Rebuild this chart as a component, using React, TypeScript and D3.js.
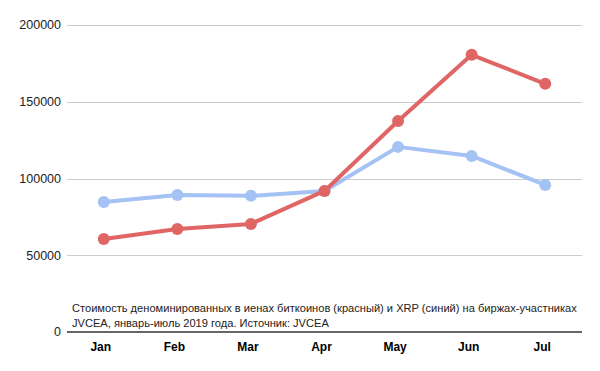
import React from 'react';
import * as d3 from 'd3';

const months = ['Jan', 'Feb', 'Mar', 'Apr', 'May', 'Jun', 'Jul'];
const btcValues = [60600, 67100, 70400, 91900, 137500, 180600, 161700];
const xrpValues = [84700, 89300, 88700, 91900, 120600, 114700, 95800];
const yTicks = [0, 50000, 100000, 150000, 200000];
const captionLines = [
  'Стоимость деноминированных в иенах биткоинов (красный) и XRP (синий) на биржах-участниках',
  'JVCEA, январь-июль 2019 года. Источник: JVCEA',
];

const width = 600;
const height = 371;
const margin = { top: 25, right: 18, bottom: 39, left: 67 };

export default function App() {
  const x = d3.scaleBand<string>()
    .domain(months)
    .range([margin.left, width - margin.right]);

  const y = d3.scaleLinear()
    .domain([0, 200000])
    .range([height - margin.bottom, margin.top]);

  const cx = (m: string) => (x(m) ?? 0) + x.bandwidth() / 2;

  const line = d3.line<number>()
    .x((_, i) => cx(months[i]))
    .y(d => y(d));

  const series = [
    { values: xrpValues, color: '#a4c2f4' },
    { values: btcValues, color: '#e06666' },
  ];

  const font = 'Arial, "Liberation Sans", sans-serif';

  return (
    <svg width={width} height={height} style={{ position: 'absolute', left: 0, top: 0, background: '#fff' }}>
      {/* grid + y labels */}
      {yTicks.map(t => (
        <g key={t}>
          {t !== 0 && (
            <line x1={margin.left} x2={width - margin.right} y1={Math.round(y(t)) + 0.5} y2={Math.round(y(t)) + 0.5}
              stroke="#cccccc" strokeWidth={1} />
          )}
          <text x={61} y={y(t)} dy="0.35em" textAnchor="end" fontFamily={font} fontSize={12.5} fill="#222">{t}</text>
        </g>
      ))}

      {/* caption */}
      {captionLines.map((l, i) => (
        <text key={i} x={72} y={311.5 + i * 15} fontFamily={font} fontSize={11.1} fill="#222">{l}</text>
      ))}

      {/* baseline */}
      <line x1={margin.left} x2={width - margin.right} y1={y(0)} y2={y(0)} stroke="#333" strokeWidth={1.5} />

      {/* x labels */}
      {months.map(m => (
        <text key={m} x={cx(m) - 3} y={351} textAnchor="middle" fontFamily={font} fontSize={12} fontWeight="bold" fill="#000">{m}</text>
      ))}

      {/* series */}
      {series.map((s, si) => (
        <g key={si}>
          <path d={line(s.values) ?? ''} fill="none" stroke={s.color} strokeWidth={4} strokeLinejoin="round" />
          {s.values.map((v, i) => (
            <circle key={i} cx={cx(months[i])} cy={y(v)} r={6} fill={s.color} />
          ))}
        </g>
      ))}
    </svg>
  );
}
